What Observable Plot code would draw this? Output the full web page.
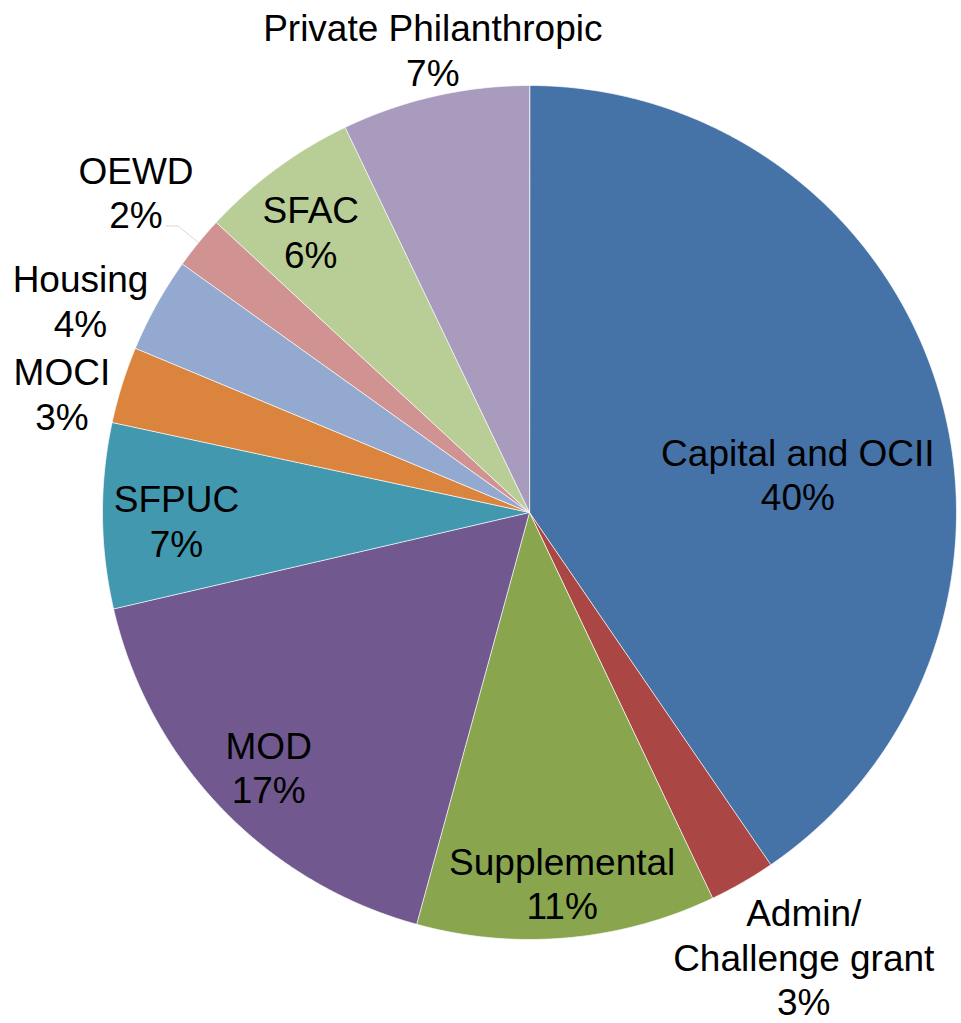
<!DOCTYPE html>
<html><head><meta charset="utf-8">
<script src="https://cdn.jsdelivr.net/npm/d3@7"></script>
<script src="https://cdn.jsdelivr.net/npm/@observablehq/plot@0.6"></script>
<style>body{margin:0;background:#fff;} svg{display:block;}</style>
</head><body><div id="chart"></div>
<script>
// ---- data ----
const categories = ["Capital and OCII", "Admin/\nChallenge grant", "Supplemental", "MOD", "SFPUC", "MOCI", "Housing", "OEWD", "SFAC", "Private Philanthropic"];
const shares = [40.4, 2.5, 11.3, 17.1, 7.0, 2.9, 3.6, 2.0, 6.0, 7.1];
const colors = ["#4572A7", "#AA4643", "#89A54E", "#71588F", "#4198AF", "#DB843D", "#93A9CF", "#D19392", "#B9CD96", "#A99BBD"];

// ---- label layout (radius as fraction of pie radius, angle nudge in degrees) ----
const labelLayout = {
  "Capital and OCII": {r: 0.635, da: 9},
  "Admin/\nChallenge grant": {r: 1.222, da: -1.8},
  "Supplemental": {r: 0.87, da: 0},
  "MOD": {r: 0.853, da: -0.4},
  "SFPUC": {r: 0.827, da: -0.8},
  "MOCI": {r: 1.13, da: -3.1},
  "Housing": {r: 1.163, da: -3.8},
  "OEWD": {r: 1.189, da: 0},
  "SFAC": {r: 0.834, da: -1.5},
  "Private Philanthropic": {r: 1.108, da: 1}
};
const leaderFor = ["OEWD"];

const data = categories.map((c, i) => ({name: c, value: shares[i]}));
const total = d3.sum(shares);
const arcs = d3.pie().sort(null).value(d => d.value)(data);

const deg = Math.PI / 180;
const polar = (a, r) => ({x: r * Math.sin(a), y: r * Math.cos(a)});

const slicePts = [];
for (const a of arcs) {
  slicePts.push({name: a.data.name, ...polar(0, 0)});
  const n = Math.max(2, Math.ceil((a.endAngle - a.startAngle) / (0.25 * deg)));
  for (let k = 0; k <= n; k++) {
    const t = a.startAngle + (a.endAngle - a.startAngle) * k / n;
    slicePts.push({name: a.data.name, ...polar(t, 1)});
  }
}

const labels = arcs.map(a => {
  const L = labelLayout[a.data.name];
  const mid = (a.startAngle + a.endAngle) / 2 + L.da * deg;
  const p = polar(mid, L.r);
  return {...p, text: a.data.name + "\n" + Math.round(a.data.value / total * 100) + "%"};
});

const leaders = [];
for (const a of arcs.filter(a => leaderFor.includes(a.data.name))) {
  const mid = (a.startAngle + a.endAngle) / 2;
  const p0 = polar(mid, 1.0), p1 = polar(mid, 1.062);
  leaders.push({name: a.data.name, ...p0}, {name: a.data.name, ...p1}, {name: a.data.name, x: p1.x - 0.028, y: p1.y});
}

const chart = Plot.plot({
  width: 961,
  height: 1023,
  x: {domain: [-1, 1], range: [102, 956], axis: null},
  y: {domain: [-1, 1], range: [939, 85], axis: null},
  color: {domain: categories, range: colors},
  style: {fontFamily: "'Liberation Sans', Arial, sans-serif", background: "#fff"},
  marks: [
    Plot.line(slicePts, {x: "x", y: "y", z: "name", fill: "name", stroke: "#ffffff", strokeWidth: 1, strokeOpacity: 0.7, curve: "linear-closed"}),
    Plot.line(leaders, {x: "x", y: "y", z: "name", stroke: "#d9d9d9", strokeWidth: 1}),
    Plot.text(labels, {x: "x", y: "y", text: "text", fontSize: 37, lineHeight: 1.2, fill: "#000", textAnchor: "middle"})
  ]
});
document.getElementById("chart").appendChild(chart);
</script>
</body></html>
